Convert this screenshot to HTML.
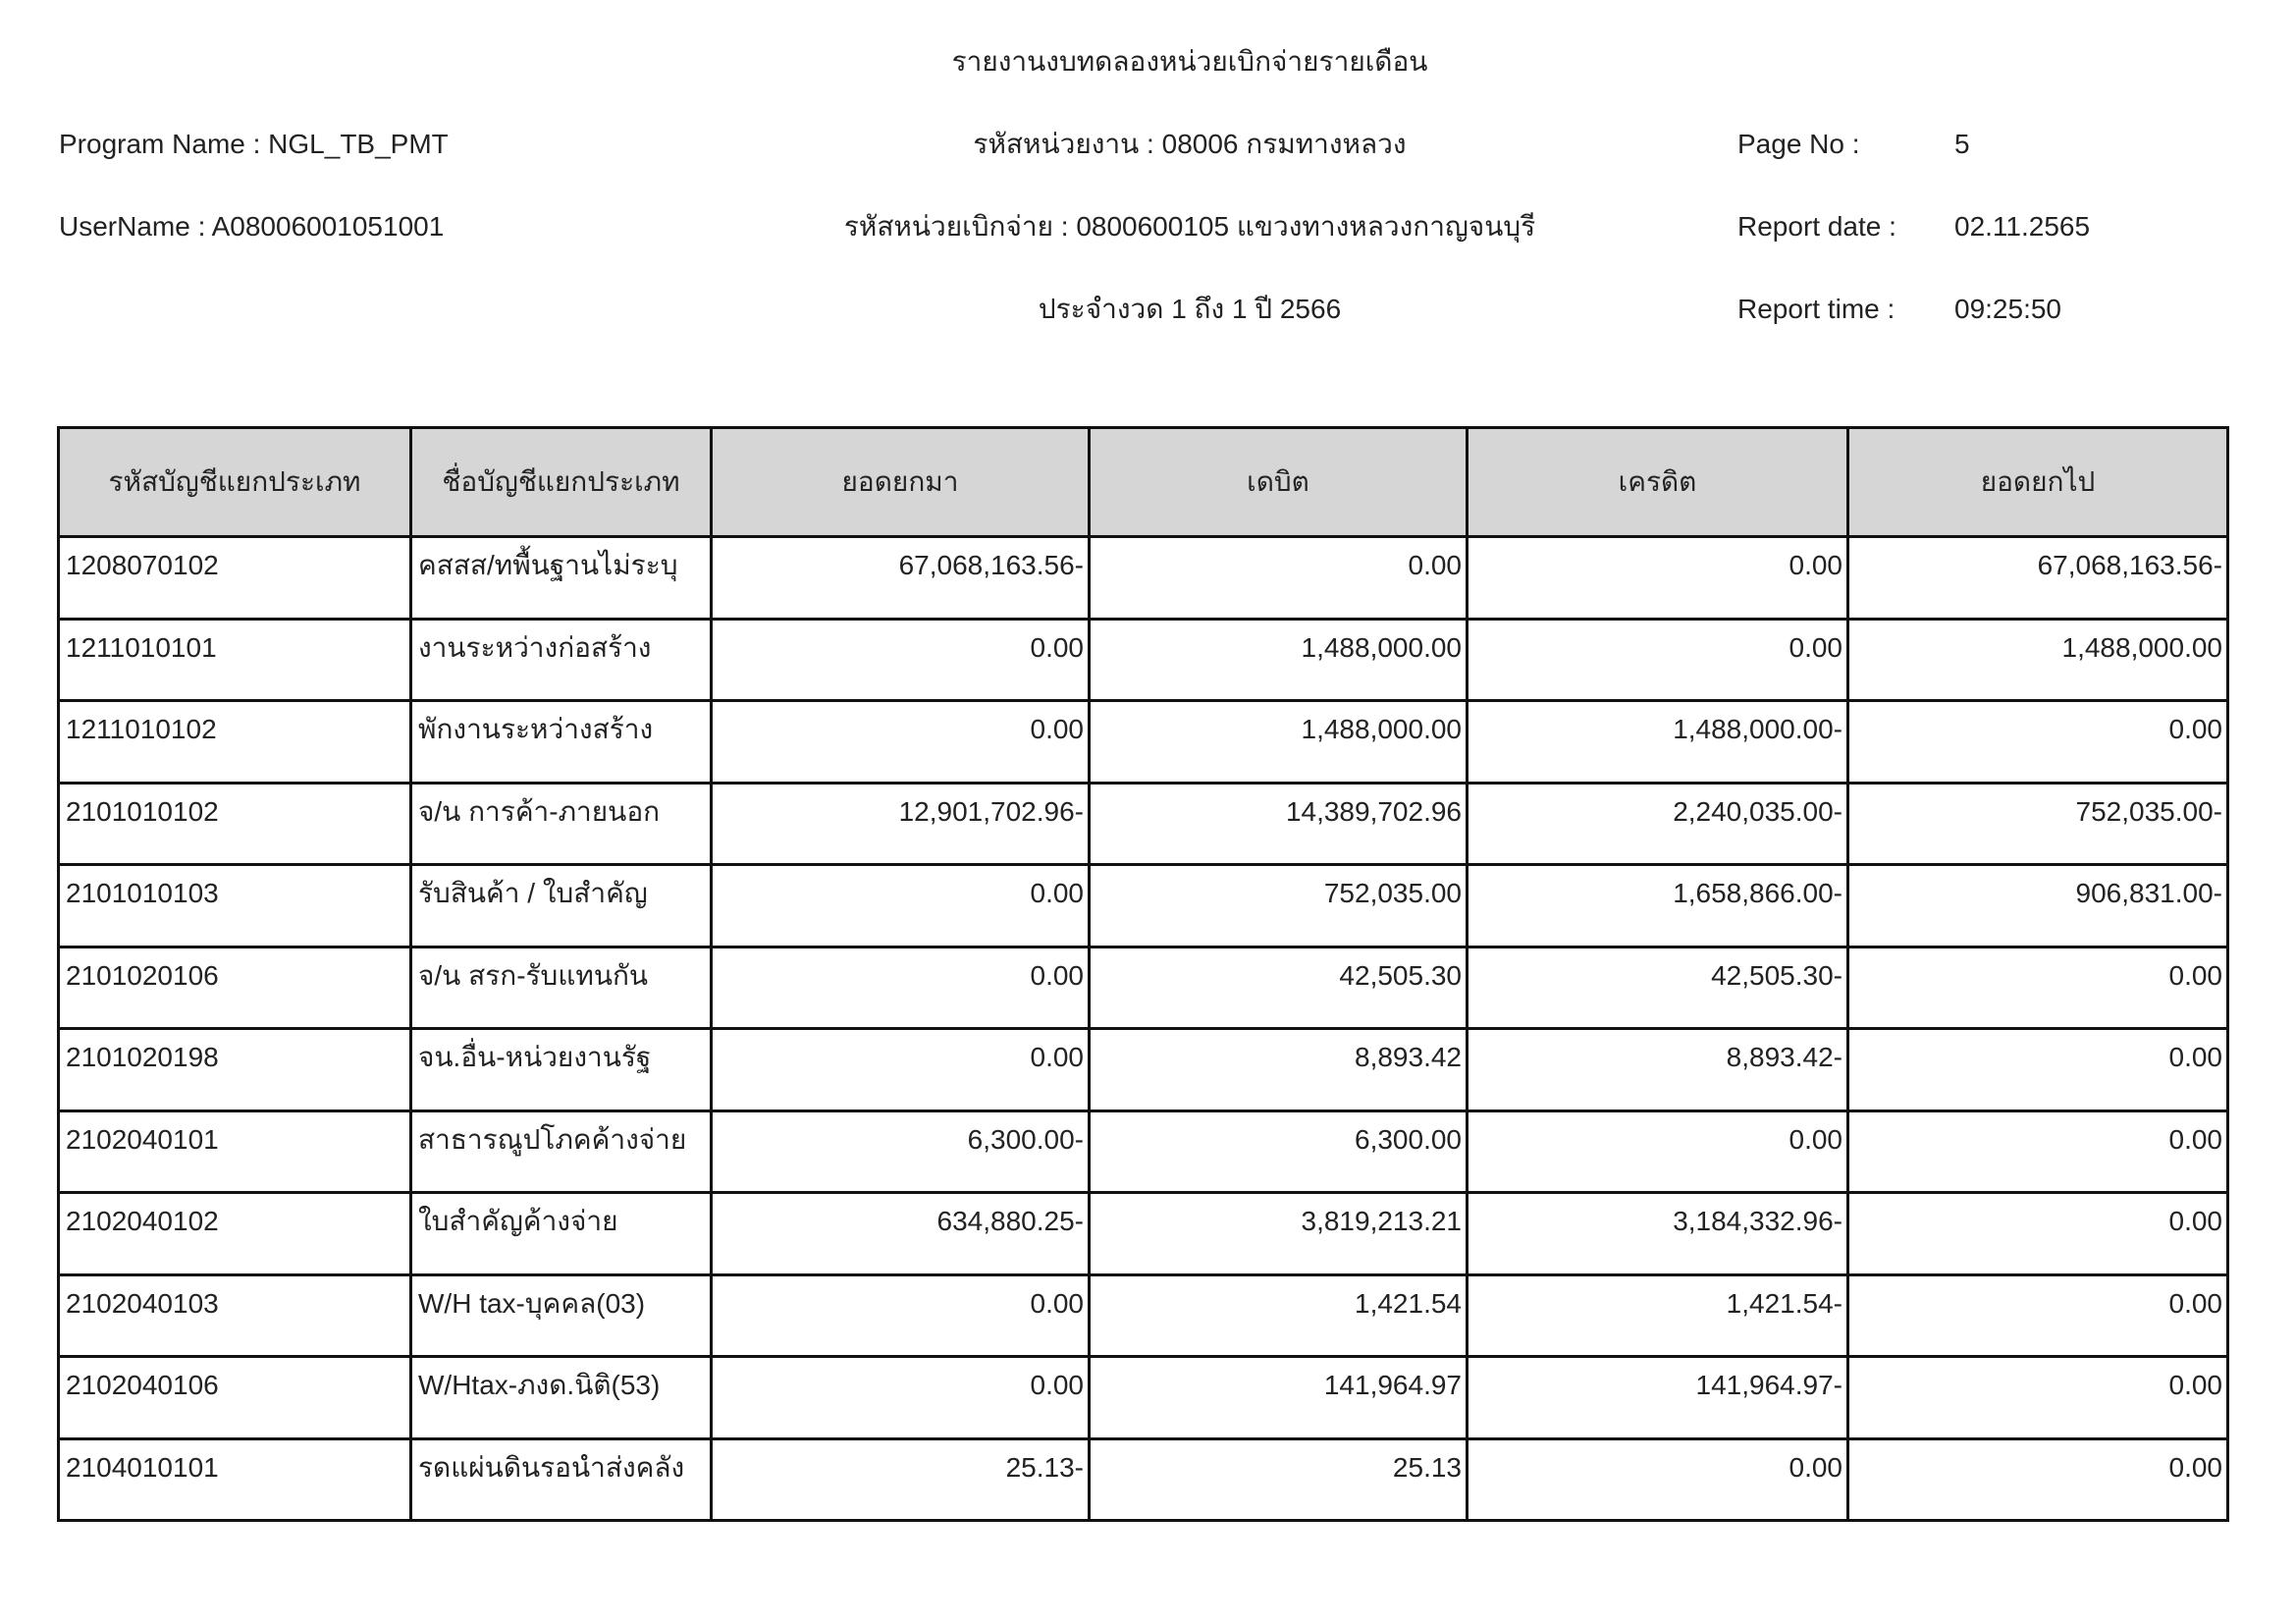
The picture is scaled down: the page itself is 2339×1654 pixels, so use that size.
<!DOCTYPE html>
<html><head><meta charset="utf-8">
<style>
body{margin:0;background:#fff;}
#p{position:relative;width:2339px;height:1654px;overflow:hidden;font-family:"Liberation Sans",sans-serif;font-size:28px;color:#222;}
.t{position:absolute;white-space:nowrap;line-height:32px;}
.c{transform:translateX(-50%);}
table{position:absolute;left:58px;top:434px;border-collapse:collapse;}
td{border:3px solid #111;height:83.5px;vertical-align:top;padding:12px 6px 0 6px;line-height:32px;box-sizing:border-box;white-space:nowrap;}
tr.h td{background:#d6d6d6;height:111px;text-align:center;vertical-align:middle;padding:0;}
td.n{text-align:right;padding-right:4px;}
</style></head><body><div id="p">
<div class="t c" style="left:1212px;top:47px">รายงานงบทดลองหน่วยเบิกจ่ายรายเดือน</div>
<div class="t" style="left:60px;top:131px">Program Name : NGL_TB_PMT</div>
<div class="t" style="left:60px;top:215px">UserName : A08006001051001</div>
<div class="t c" style="left:1212px;top:131px">รหัสหน่วยงาน : 08006 กรมทางหลวง</div>
<div class="t c" style="left:1212px;top:215px">รหัสหน่วยเบิกจ่าย : 0800600105 แขวงทางหลวงกาญจนบุรี</div>
<div class="t c" style="left:1212px;top:299px">ประจำงวด 1 ถึง 1 ปี 2566</div>
<div class="t" style="left:1770px;top:131px">Page No :</div>
<div class="t" style="left:1991px;top:131px">5</div>
<div class="t" style="left:1770px;top:215px">Report date :</div>
<div class="t" style="left:1991px;top:215px">02.11.2565</div>
<div class="t" style="left:1770px;top:299px">Report time :</div>
<div class="t" style="left:1991px;top:299px">09:25:50</div>
<table>
<colgroup><col style="width:359px"><col style="width:306px"><col style="width:385px"><col style="width:385px"><col style="width:388px"><col style="width:387px"></colgroup>
<tr class="h"><td>รหัสบัญชีแยกประเภท</td><td>ชื่อบัญชีแยกประเภท</td><td>ยอดยกมา</td><td>เดบิต</td><td>เครดิต</td><td>ยอดยกไป</td></tr>
<tr><td>1208070102</td><td>คสสส/ทพื้นฐานไม่ระบุ</td><td class="n">67,068,163.56-</td><td class="n">0.00</td><td class="n">0.00</td><td class="n">67,068,163.56-</td></tr>
<tr><td>1211010101</td><td>งานระหว่างก่อสร้าง</td><td class="n">0.00</td><td class="n">1,488,000.00</td><td class="n">0.00</td><td class="n">1,488,000.00</td></tr>
<tr><td>1211010102</td><td>พักงานระหว่างสร้าง</td><td class="n">0.00</td><td class="n">1,488,000.00</td><td class="n">1,488,000.00-</td><td class="n">0.00</td></tr>
<tr><td>2101010102</td><td>จ/น การค้า-ภายนอก</td><td class="n">12,901,702.96-</td><td class="n">14,389,702.96</td><td class="n">2,240,035.00-</td><td class="n">752,035.00-</td></tr>
<tr><td>2101010103</td><td>รับสินค้า / ใบสำคัญ</td><td class="n">0.00</td><td class="n">752,035.00</td><td class="n">1,658,866.00-</td><td class="n">906,831.00-</td></tr>
<tr><td>2101020106</td><td>จ/น สรก-รับแทนกัน</td><td class="n">0.00</td><td class="n">42,505.30</td><td class="n">42,505.30-</td><td class="n">0.00</td></tr>
<tr><td>2101020198</td><td>จน.อื่น-หน่วยงานรัฐ</td><td class="n">0.00</td><td class="n">8,893.42</td><td class="n">8,893.42-</td><td class="n">0.00</td></tr>
<tr><td>2102040101</td><td>สาธารณูปโภคค้างจ่าย</td><td class="n">6,300.00-</td><td class="n">6,300.00</td><td class="n">0.00</td><td class="n">0.00</td></tr>
<tr><td>2102040102</td><td>ใบสำคัญค้างจ่าย</td><td class="n">634,880.25-</td><td class="n">3,819,213.21</td><td class="n">3,184,332.96-</td><td class="n">0.00</td></tr>
<tr><td>2102040103</td><td>W/H tax-บุคคล(03)</td><td class="n">0.00</td><td class="n">1,421.54</td><td class="n">1,421.54-</td><td class="n">0.00</td></tr>
<tr><td>2102040106</td><td>W/Htax-ภงด.นิติ(53)</td><td class="n">0.00</td><td class="n">141,964.97</td><td class="n">141,964.97-</td><td class="n">0.00</td></tr>
<tr><td>2104010101</td><td>รดแผ่นดินรอนำส่งคลัง</td><td class="n">25.13-</td><td class="n">25.13</td><td class="n">0.00</td><td class="n">0.00</td></tr>
</table>
</div></body></html>
